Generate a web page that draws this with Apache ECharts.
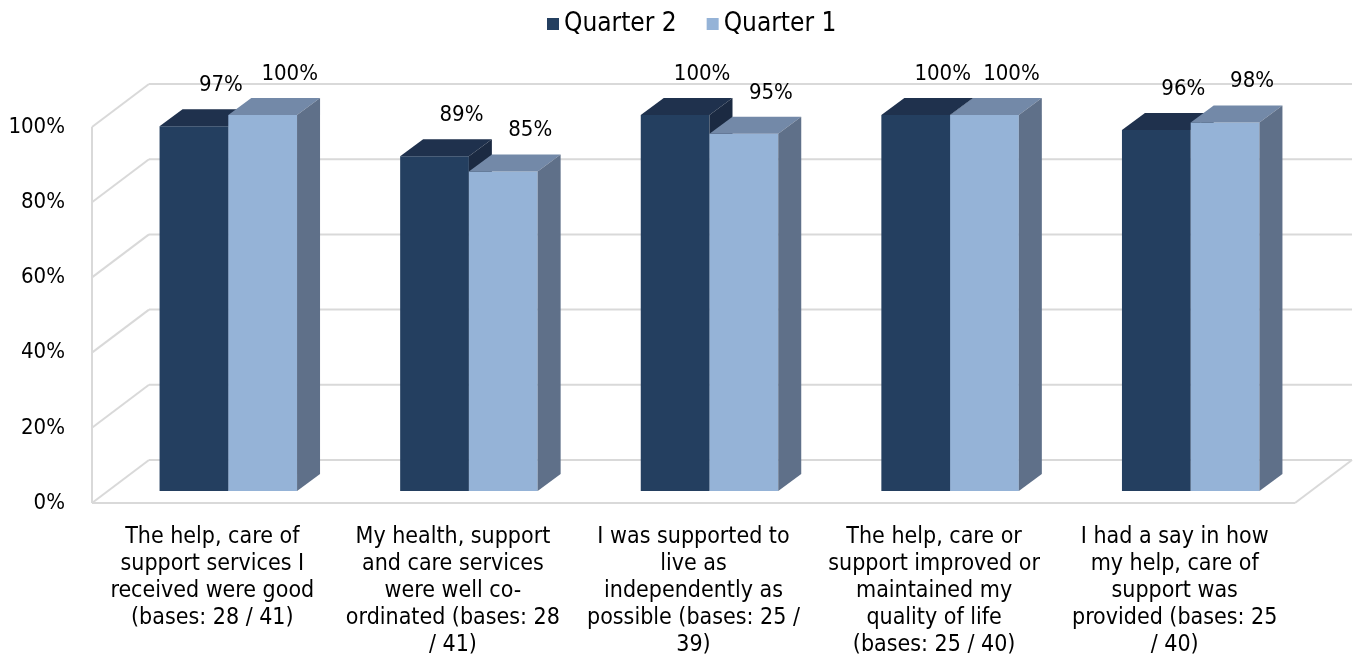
<!DOCTYPE html>
<html>
<head>
<meta charset="utf-8">
<title>Survey results by quarter</title>
<script src="https://cdn.jsdelivr.net/npm/echarts@6/dist/echarts.min.js"></script>
<style>
  html, body { margin: 0; padding: 0; background: #fff; }
  #chart { width: 1359px; height: 659px; }
</style>
</head>
<body>
<div id="chart"></div>
<script>
// ---- data ----
const categories = [
  'The help, care of support services I received were good (bases: 28 / 41)',
  'My health, support and care services were well co-ordinated (bases: 28 / 41)',
  'I was supported to live as independently as possible (bases: 25 / 39)',
  'The help, care or support improved or maintained my quality of life (bases: 25 / 40)',
  'I had a say in how my help, care of support was provided (bases: 25 / 40)'
];
const seriesNames = ['Quarter 2', 'Quarter 1'];
const quarter2 = [97, 89, 100, 100, 96];
const quarter1 = [100, 85, 95, 100, 98];
const yTicks = [0, 20, 40, 60, 80, 100];

// ---- styling ----
const FONT = "'DejaVu Sans Condensed', 'DejaVu Sans', sans-serif";
const FS = 22;          // tick and value labels
const CAT_FS = 23;      // category labels
const LEGEND_FS = 26;
const GRID_LINE = '#D9D9D9';
const palette = [
  { front: '#243F60', top: '#1F314D', side: '#1B2A42' },
  { front: '#95B3D7', top: '#7389A8', side: '#5F7089' }
];
// oblique projection of the box: full depth of floor / walls
const WALL_DX = 57, WALL_DY = -43;
// bars sit partway into the depth
const BAR_OX = 16, BAR_OY = -12;      // shift of bar front face
const BAR_DX = 23, BAR_DY = -17;      // depth of the bar itself
const GAP_RATIO = 1.5;                 // gap between clusters relative to bar width

// wrap category text greedily, breaking at spaces and after hyphens
const measureCtx = document.createElement('canvas').getContext('2d');
function wrapText(text, maxW, font) {
  measureCtx.font = font;
  const tokens = [];
  text.split(' ').forEach((w, i) => {
    w.split(/(?<=-)/).forEach((p, j) => tokens.push({ s: p, sp: j === 0 && i > 0 }));
  });
  const lines = [];
  let cur = '';
  tokens.forEach(t => {
    const cand = cur ? cur + (t.sp ? ' ' : '') + t.s : t.s;
    if (cur && measureCtx.measureText(cand).width > maxW) {
      lines.push(cur);
      cur = t.s;
    } else {
      cur = cand;
    }
  });
  lines.push(cur);
  return lines.join('\n');
}

function barRenderer(seriesIndex) {
  const c = palette[seriesIndex];
  return function (params, api) {
    const idx = api.value(0);
    const val = api.value(1);
    const base = api.coord([idx, 0]);
    const top = api.coord([idx, val]);
    const band = api.size([1, 0])[0];
    const bw = band / (2 + GAP_RATIO);
    const x0 = base[0] - bw + seriesIndex * bw + BAR_OX;
    const x1 = x0 + bw;
    const yt = top[1] + BAR_OY;
    const yb = base[1] + BAR_OY;
    return {
      type: 'group',
      children: [
        {
          type: 'rect',
          shape: { x: x0, y: yt, width: bw, height: yb - yt },
          style: { fill: c.front }
        },
        {
          type: 'polygon',
          shape: { points: [[x0, yt], [x1, yt], [x1 + BAR_DX, yt + BAR_DY], [x0 + BAR_DX, yt + BAR_DY]] },
          style: { fill: c.top }
        },
        {
          type: 'polygon',
          shape: { points: [[x1, yt], [x1 + BAR_DX, yt + BAR_DY], [x1 + BAR_DX, yb + BAR_DY], [x1, yb]] },
          style: { fill: c.side }
        },
        {
          type: 'text',
          z2: 100,
          style: {
            text: val + '%',
            x: x0 + bw / 2 + BAR_DX + 4,
            y: yt + BAR_DY - 24,
            align: 'center',
            verticalAlign: 'middle',
            font: FS + 'px ' + FONT,
            fill: '#000'
          }
        }
      ]
    };
  };
}

function frameRenderer(params, api) {
  const cs = params.coordSys;
  const left = cs.x, right = cs.x + cs.width;
  const v = api.value(1);
  const y = api.coord([0, v])[1];
  const line = (x1, y1, x2, y2) => ({
    type: 'line',
    shape: { x1, y1, x2, y2 },
    style: { stroke: GRID_LINE, lineWidth: 2 }
  });
  const children = [
    line(left, y, left + WALL_DX, y + WALL_DY),
    line(left + WALL_DX, y + WALL_DY, right + WALL_DX, y + WALL_DY)
  ];
  if (v === yTicks[0]) {
    const yTop = api.coord([0, yTicks[yTicks.length - 1]])[1];
    children.push(line(left, y, right, y));
    children.push(line(right, y, right + WALL_DX, y + WALL_DY));
    children.push(line(left, y, left, yTop));
  }
  return { type: 'group', children };
}

const chart = echarts.init(document.getElementById('chart'), null, { renderer: 'canvas' });
const catFont = CAT_FS + 'px ' + FONT;

chart.setOption({
  backgroundColor: '#fff',
  animation: false,
  textStyle: { fontFamily: FONT },
  legend: {
    top: 6,
    left: 542,
    icon: 'rect',
    itemWidth: 12,
    itemHeight: 12,
    itemGap: 30,
    data: seriesNames,
    textStyle: { fontSize: LEGEND_FS, color: '#000', fontFamily: FONT }
  },
  grid: { left: 92, right: 64, top: 127, bottom: 156, outerBoundsMode: 'none' },
  xAxis: {
    type: 'category',
    data: categories,
    axisLine: { show: false },
    axisTick: { show: false },
    splitLine: { show: false },
    axisLabel: {
      interval: 0,
      margin: 21,
      color: '#000',
      fontSize: CAT_FS,
      fontFamily: FONT,
      lineHeight: 27,
      align: 'center',
      formatter: (t) => wrapText(t, 216, catFont)
    }
  },
  yAxis: {
    type: 'value',
    min: 0,
    max: 100,
    interval: 20,
    axisLine: { show: false },
    axisTick: { show: false },
    splitLine: { show: false },
    axisLabel: {
      margin: 27,
      color: '#000',
      fontSize: FS,
      fontFamily: FONT,
      formatter: '{value}%'
    }
  },
  series: [
    {
      type: 'custom',
      name: 'frame',
      z: 1,
      silent: true,
      clip: false,
      renderItem: frameRenderer,
      data: yTicks.map(v => [0, v]),
      encode: { x: 0, y: 1 }
    },
    {
      type: 'custom',
      name: seriesNames[0],
      z: 2,
      clip: false,
      itemStyle: { color: palette[0].front },
      renderItem: barRenderer(0),
      data: quarter2.map((v, i) => [i, v]),
      encode: { x: 0, y: 1 }
    },
    {
      type: 'custom',
      name: seriesNames[1],
      z: 2,
      clip: false,
      itemStyle: { color: palette[1].front },
      renderItem: barRenderer(1),
      data: quarter1.map((v, i) => [i, v]),
      encode: { x: 0, y: 1 }
    }
  ]
});
</script>
</body>
</html>
